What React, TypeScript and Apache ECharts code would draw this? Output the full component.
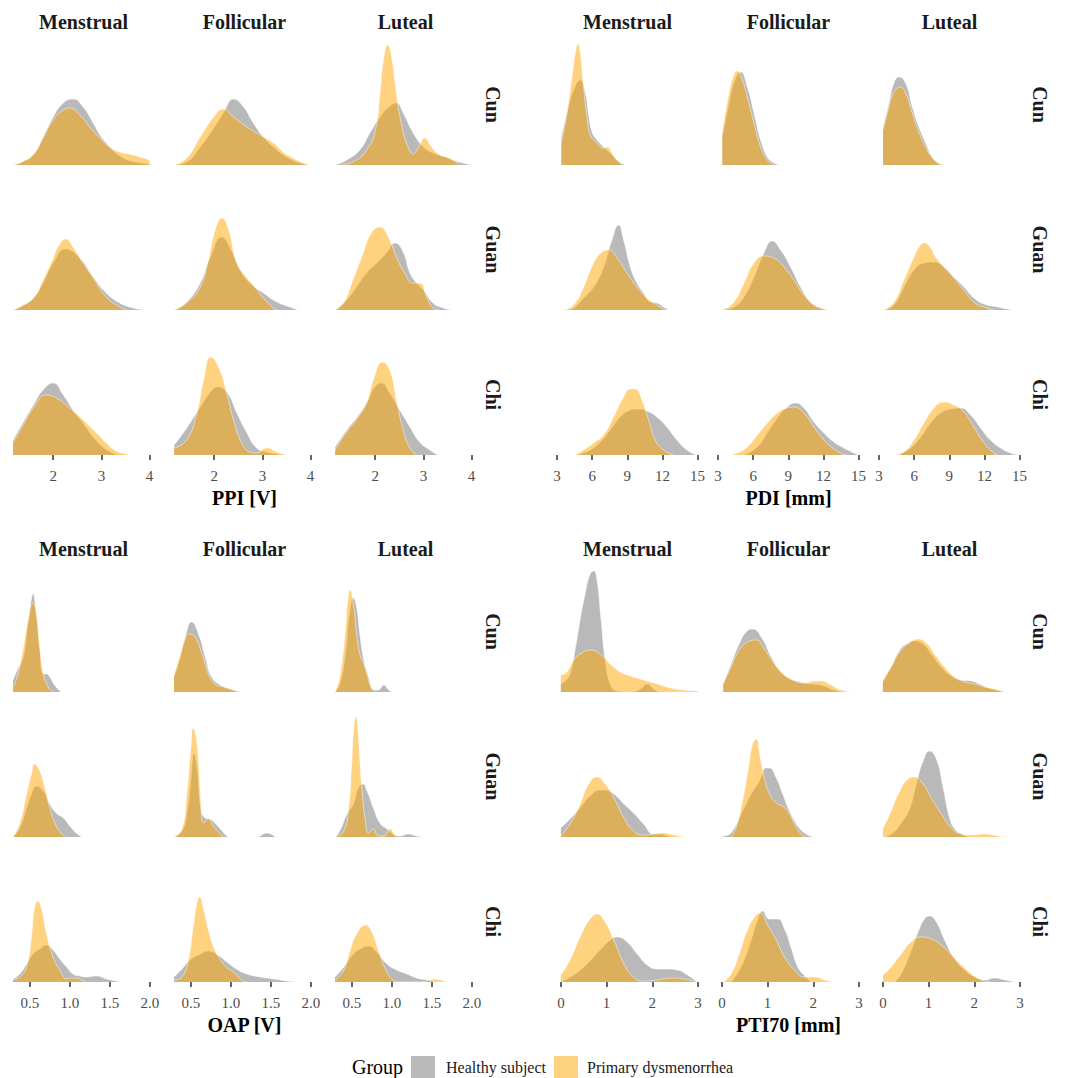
import React, { useEffect, useRef } from "react";
import * as echarts from "echarts";

type Pt = [number, number];

const phases = ["Menstrual", "Follicular", "Luteal"];
const sites = ["Cun", "Guan", "Chi"];
const groups = ["Healthy subject", "Primary dysmenorrhea"];

// Relative density (shared scale within each measure), per site: [Menstrual, Follicular, Luteal]
// ---------- PPI [V] ----------
const ppiCunHS: Pt[][] = [
  [[1.17,0],[1.35,3],[1.59,10],[1.79,28],[2.0,48],[2.21,62],[2.41,66],[2.62,58],[2.83,42],[2.97,30],[3.1,22],[3.3,12],[3.5,6],[3.7,3],[4.0,1]],
  [[1.17,0],[1.43,3],[1.71,18],[1.99,37],[2.19,52],[2.4,66],[2.61,58],[2.81,42],[3.02,28],[3.23,18],[3.5,8],[3.78,2],[4.0,0]],
  [[1.17,0],[1.41,5],[1.68,15],[1.89,32],[2.1,48],[2.3,59],[2.44,62],[2.58,52],[2.79,32],[3.0,18],[3.2,12],[3.4,9],[3.61,5],[3.82,2],[4.0,0]],
];
const ppiCunPD: Pt[][] = [
  [[1.17,0],[1.35,3],[1.59,11],[1.79,27],[2.0,45],[2.21,55],[2.34,57],[2.55,50],[2.76,38],[2.97,27],[3.17,18],[3.38,13],[3.66,10],[4.0,5]],
  [[1.17,0],[1.43,7],[1.71,28],[1.99,48],[2.19,56],[2.4,48],[2.68,38],[2.95,30],[3.23,22],[3.43,13],[3.64,7],[3.85,2],[4.0,0]],
  [[1.3,0],[1.61,5],[1.82,15],[1.99,32],[2.1,72],[2.17,105],[2.26,120],[2.34,108],[2.44,72],[2.54,42],[2.68,18],[2.79,11],[2.89,17],[3.03,27],[3.17,18],[3.34,10],[3.54,7],[3.75,0]],
];
const ppiGuanHS: Pt[][] = [
  [[1.17,0],[1.35,4],[1.59,12],[1.79,27],[2.0,47],[2.25,61],[2.55,52],[2.83,33],[3.1,17],[3.38,7],[3.66,2],[3.9,0]],
  [[1.17,0],[1.43,8],[1.71,27],[1.92,53],[2.16,73],[2.33,62],[2.54,40],[2.74,27],[3.02,17],[3.3,8],[3.57,3],[3.74,0]],
  [[1.17,0],[1.41,10],[1.61,23],[1.82,37],[2.03,47],[2.23,57],[2.41,67],[2.58,58],[2.72,37],[2.86,27],[3.0,20],[3.2,7],[3.41,2],[3.58,0]],
];
const ppiGuanPD: Pt[][] = [
  [[1.17,0],[1.35,4],[1.59,12],[1.79,30],[2.0,52],[2.12,65],[2.26,71],[2.41,63],[2.62,47],[2.83,32],[3.1,13],[3.38,3],[3.52,0]],
  [[1.17,0],[1.43,7],[1.71,23],[1.88,50],[2.02,80],[2.16,92],[2.3,80],[2.47,47],[2.68,32],[2.81,25],[3.02,12],[3.2,3],[3.3,0]],
  [[1.17,0],[1.34,7],[1.54,30],[1.75,57],[1.92,77],[2.1,83],[2.27,73],[2.44,53],[2.61,37],[2.79,27],[2.93,27],[3.07,13],[3.2,2],[3.34,0]],
];
const ppiChiHS: Pt[][] = [
  [[1.17,15],[1.38,33],[1.59,50],[1.79,65],[2.0,72],[2.21,60],[2.41,45],[2.62,32],[2.83,18],[3.03,8],[3.24,2],[3.38,0]],
  [[1.17,10],[1.43,27],[1.71,48],[1.92,63],[2.06,68],[2.26,63],[2.47,42],[2.68,22],[2.88,7],[3.09,3],[3.3,1],[3.43,0]],
  [[1.17,8],[1.41,25],[1.61,37],[1.82,52],[1.99,68],[2.13,72],[2.3,62],[2.51,45],[2.72,28],[2.92,13],[3.13,5],[3.3,0]],
];
const ppiChiPD: Pt[][] = [
  [[1.17,13],[1.38,30],[1.59,47],[1.86,60],[2.07,57],[2.34,47],[2.62,35],[2.9,22],[3.1,12],[3.31,4],[3.52,1],[3.6,0]],
  [[1.17,7],[1.43,15],[1.64,42],[1.78,75],[1.93,98],[2.09,88],[2.26,62],[2.4,35],[2.57,12],[2.74,3],[2.88,2],[3.09,7],[3.3,3],[3.5,0]],
  [[1.17,5],[1.41,23],[1.61,35],[1.82,52],[1.96,75],[2.15,93],[2.3,85],[2.44,55],[2.58,25],[2.72,7],[2.86,0]],
];

// ---------- PDI [mm] ----------
const pdiCunHS: Pt[][] = [
  [[3.37,28],[3.85,52],[4.42,75],[4.99,85],[5.42,72],[5.7,50],[5.99,33],[6.41,25],[6.98,18],[7.55,12],[8.12,5],[8.83,0]],
  [[3.37,28],[3.94,62],[4.51,87],[4.93,93],[5.5,78],[6.07,52],[6.64,25],[7.21,8],[7.78,2],[8.35,0]],
  [[3.34,37],[3.85,62],[4.28,82],[4.71,88],[5.27,82],[5.84,58],[6.41,38],[6.98,22],[7.55,8],[8.12,2],[8.55,0]],
];
const pdiCunPD: Pt[][] = [
  [[3.37,22],[3.85,52],[4.28,88],[4.56,112],[4.79,121],[4.99,112],[5.27,78],[5.56,48],[5.84,30],[6.41,22],[6.98,17],[7.32,18],[7.69,12],[8.12,5],[8.54,0]],
  [[3.37,32],[3.94,72],[4.42,92],[4.65,94],[5.08,85],[5.5,68],[6.07,42],[6.64,18],[7.21,5],[7.78,0]],
  [[3.34,35],[3.85,58],[4.28,73],[4.79,78],[5.27,72],[5.84,52],[6.41,33],[6.98,18],[7.55,7],[8.12,1],[8.4,0]],
];
const pdiGuanHS: Pt[][] = [
  [[3.9,0],[4.42,2],[5.27,12],[6.13,23],[6.98,43],[7.69,70],[8.26,85],[8.69,70],[9.26,43],[9.82,27],[10.39,17],[10.96,8],[11.53,7],[12.1,3],[12.52,0]],
  [[3.37,0],[4.36,3],[5.22,13],[6.07,33],[6.92,57],[7.63,69],[8.35,60],[9.2,43],[10.05,23],[10.9,8],[11.76,2],[12.47,0]],
  [[3.43,0],[4.28,5],[5.13,23],[5.99,40],[6.84,47],[7.69,48],[8.54,43],[9.4,33],[10.25,23],[11.1,12],[11.96,6],[13.09,3],[14.43,0]],
];
const pdiGuanPD: Pt[][] = [
  [[3.57,0],[4.42,5],[5.27,23],[6.13,47],[6.84,58],[7.41,60],[8.12,52],[8.97,37],[9.82,23],[10.67,12],[11.39,6],[11.96,2],[12.4,0]],
  [[3.37,0],[4.36,8],[5.22,27],[6.07,47],[6.92,54],[7.78,52],[8.63,43],[9.48,30],[10.33,15],[11.19,5],[12.04,1],[12.47,0]],
  [[3.43,0],[4.28,8],[5.13,30],[5.99,53],[6.55,65],[6.9,67],[7.41,62],[7.83,53],[8.54,43],[9.4,32],[10.25,20],[11.1,8],[11.96,3],[12.81,0]],
];
const pdiChiHS: Pt[][] = [
  [[4.71,0],[5.84,5],[6.7,13],[7.55,25],[8.4,38],[9.26,45],[9.82,46],[10.68,44],[11.53,38],[12.38,28],[13.24,15],[14.09,5],[14.94,0]],
  [[5.22,0],[6.36,8],[7.21,22],[8.06,37],[8.91,48],[9.62,52],[10.33,47],[11.19,33],[12.04,22],[12.89,13],[13.75,7],[14.6,2],[15.0,0]],
  [[4.56,0],[5.7,7],[6.55,18],[7.41,32],[8.26,42],[9.11,46],[9.97,47],[10.82,40],[11.67,27],[12.52,15],[13.38,7],[14.23,2],[15.0,0]],
];
const pdiChiPD: Pt[][] = [
  [[4.56,0],[5.27,5],[6.13,12],[6.98,20],[7.83,38],[8.69,58],[9.26,66],[9.68,66],[10.25,55],[10.82,35],[11.39,15],[12.1,5],[12.95,0]],
  [[3.94,0],[4.65,2],[5.5,8],[6.36,20],[7.21,32],[8.06,42],[8.91,47],[9.48,48],[10.33,42],[11.19,28],[12.04,15],[12.89,6],[13.46,2],[14.03,0]],
  [[4.28,0],[5.13,3],[5.99,15],[6.84,32],[7.69,47],[8.54,53],[9.4,50],[10.25,43],[11.1,28],[11.96,12],[12.81,2],[13.1,0]],
];

// ---------- OAP [V] ----------
const oapCunHS: Pt[][] = [
  [[0.29,12],[0.35,23],[0.42,35],[0.46,58],[0.51,88],[0.54,98],[0.58,78],[0.625,42],[0.67,18],[0.71,18],[0.75,15],[0.81,7],[0.875,1],[0.9,0]],
  [[0.29,15],[0.37,35],[0.43,55],[0.51,70],[0.6,57],[0.68,35],[0.76,15],[0.87,7],[0.99,3],[1.11,0]],
  [[0.29,0],[0.35,8],[0.42,38],[0.47,78],[0.52,94],[0.56,85],[0.6,58],[0.65,32],[0.71,15],[0.77,2],[0.83,2],[0.9,7],[0.96,2],[1.0,0]],
];
const oapCunPD: Pt[][] = [
  [[0.29,5],[0.35,17],[0.42,45],[0.48,72],[0.54,89],[0.58,80],[0.625,45],[0.67,18],[0.73,5],[0.79,0]],
  [[0.29,17],[0.37,38],[0.43,53],[0.47,58],[0.55,55],[0.64,38],[0.72,18],[0.8,8],[0.91,5],[1.03,2],[1.11,0]],
  [[0.29,0],[0.35,15],[0.42,62],[0.45,92],[0.48,102],[0.52,88],[0.56,58],[0.6,38],[0.65,28],[0.69,18],[0.73,7],[0.79,0]],
];
const oapGuanHS: Pt[][] = [
  [[0.29,0],[0.375,9],[0.46,29],[0.52,43],[0.58,51],[0.67,46],[0.75,33],[0.83,24],[0.92,19],[1.0,11],[1.08,4],[1.15,0]],
  [[0.29,0],[0.39,6],[0.45,23],[0.5,56],[0.54,84],[0.58,69],[0.625,29],[0.68,19],[0.74,18],[0.8,14],[0.87,8],[0.95,1],[0.99,0],[1.32,0],[1.45,4],[1.56,0]],
  [[0.29,0],[0.35,6],[0.44,23],[0.52,33],[0.58,49],[0.64,53],[0.69,46],[0.77,29],[0.85,14],[0.94,8],[1.02,3],[1.1,1],[1.21,3],[1.31,1],[1.4,0]],
];
const oapGuanPD: Pt[][] = [
  [[0.29,0],[0.375,14],[0.46,43],[0.52,63],[0.56,73],[0.625,66],[0.69,49],[0.75,29],[0.83,11],[0.9,3],[0.94,0]],
  [[0.29,0],[0.39,8],[0.45,43],[0.5,89],[0.53,109],[0.575,96],[0.62,43],[0.66,14],[0.72,18],[0.78,11],[0.87,3],[0.91,0]],
  [[0.29,0],[0.4,6],[0.46,29],[0.5,76],[0.53,113],[0.555,120],[0.58,103],[0.625,49],[0.67,16],[0.71,4],[0.77,8],[0.83,1],[0.9,1],[0.98,8],[1.04,1],[1.06,0]],
];
const oapChiHS: Pt[][] = [
  [[0.29,3],[0.375,8],[0.46,18],[0.54,28],[0.625,33],[0.71,37],[0.79,32],[0.875,23],[0.96,15],[1.04,8],[1.125,6],[1.21,5],[1.33,6],[1.46,3],[1.58,1],[1.62,0]],
  [[0.29,5],[0.39,13],[0.49,22],[0.62,28],[0.72,31],[0.82,28],[0.95,20],[1.07,13],[1.2,8],[1.37,5],[1.54,3],[1.7,1],[1.83,0]],
  [[0.29,5],[0.4,15],[0.52,28],[0.625,34],[0.71,36],[0.81,30],[0.94,18],[1.06,12],[1.19,8],[1.31,4],[1.44,2],[1.52,0]],
];
const oapChiPD: Pt[][] = [
  [[0.29,2],[0.375,5],[0.46,15],[0.52,45],[0.56,75],[0.6,81],[0.65,72],[0.71,48],[0.79,25],[0.875,12],[0.96,3],[1.02,4],[1.08,4],[1.15,2],[1.21,0]],
  [[0.29,2],[0.39,5],[0.47,22],[0.53,55],[0.575,78],[0.61,85],[0.66,73],[0.72,52],[0.8,32],[0.89,20],[0.97,13],[1.03,10],[1.12,3],[1.2,0]],
  [[0.29,2],[0.4,12],[0.48,32],[0.56,48],[0.67,57],[0.75,50],[0.83,32],[0.92,13],[1.0,3],[1.08,0],[1.33,0],[1.48,2],[1.54,3],[1.67,0]],
];

// ---------- PTI70 [mm] ----------
const ptiCunHS: Pt[][] = [
  [[0,8],[0.09,11],[0.2,18],[0.31,42],[0.42,72],[0.53,98],[0.64,118],[0.72,121],[0.79,112],[0.88,72],[0.97,32],[1.08,8],[1.23,1],[1.52,0],[1.74,3],[1.89,8],[2.03,3],[2.14,0]],
  [[0.03,8],[0.2,28],[0.38,48],[0.53,60],[0.67,63],[0.86,55],[1.08,35],[1.29,20],[1.51,13],[1.73,10],[1.95,8],[2.17,7],[2.39,3],[2.6,0]],
  [[0,10],[0.18,25],[0.37,42],[0.55,49],[0.69,51],[0.88,48],[1.06,38],[1.28,25],[1.5,16],[1.72,12],[1.94,11],[2.16,7],[2.38,3],[2.67,0]],
];
const ptiCunPD: Pt[][] = [
  [[0,17],[0.13,20],[0.28,32],[0.42,38],[0.64,42],[0.86,38],[1.08,28],[1.3,20],[1.52,16],[1.81,12],[2.11,8],[2.4,4],[2.69,2],[3.0,1]],
  [[0.03,8],[0.2,25],[0.38,42],[0.56,50],[0.75,52],[0.93,43],[1.15,28],[1.37,17],[1.59,11],[1.81,9],[2.03,11],[2.17,11],[2.39,7],[2.61,2],[2.87,0]],
  [[0,12],[0.18,25],[0.37,40],[0.55,48],[0.77,53],[0.95,49],[1.13,38],[1.35,25],[1.57,15],[1.79,10],[2.01,8],[2.23,5],[2.45,3],[2.67,0]],
];
const ptiGuanHS: Pt[][] = [
  [[0,9],[0.2,18],[0.42,29],[0.64,41],[0.86,47],[0.97,47],[1.16,43],[1.38,33],[1.59,24],[1.81,13],[2.03,3],[2.18,3],[2.33,1],[2.48,0]],
  [[0.03,1],[0.2,4],[0.42,23],[0.64,43],[0.82,56],[0.97,69],[1.04,69],[1.19,59],[1.33,43],[1.48,26],[1.66,11],[1.84,3],[2.02,0]],
  [[0,0],[0.18,3],[0.4,14],[0.59,29],[0.73,53],[0.88,76],[1.02,86],[1.17,78],[1.32,49],[1.46,19],[1.57,8],[1.72,3],[1.87,0]],
];
const ptiGuanPD: Pt[][] = [
  [[0,1],[0.2,13],[0.42,33],[0.61,53],[0.79,60],[0.97,53],[1.16,39],[1.38,19],[1.59,6],[1.81,2],[2.03,3],[2.25,4],[2.47,2],[2.73,0]],
  [[0.2,0],[0.31,9],[0.42,29],[0.56,63],[0.67,93],[0.75,98],[0.84,79],[0.93,59],[1.04,43],[1.19,34],[1.33,31],[1.44,26],[1.59,13],[1.73,3],[1.84,0]],
  [[0,8],[0.18,26],[0.37,46],[0.55,58],[0.69,60],[0.88,53],[1.06,39],[1.28,23],[1.5,9],[1.72,3],[1.94,2],[2.23,3],[2.52,1],[2.74,0]],
];
const ptiChiHS: Pt[][] = [
  [[0,0],[0.28,7],[0.57,18],[0.86,32],[1.08,42],[1.23,45],[1.45,40],[1.67,28],[1.89,17],[2.11,13],[2.33,13],[2.55,12],[2.77,7],[2.98,0]],
  [[0.2,0],[0.42,15],[0.64,42],[0.78,62],[0.89,71],[1.04,63],[1.22,63],[1.37,53],[1.51,35],[1.66,15],[1.81,6],[1.95,0]],
  [[0.26,0],[0.4,8],[0.59,28],[0.77,50],[0.91,63],[1.02,66],[1.17,60],[1.35,42],[1.57,23],[1.79,12],[2.01,5],[2.23,2],[2.45,4],[2.67,2],[2.89,0]],
];
const ptiChiPD: Pt[][] = [
  [[0,7],[0.2,22],[0.42,45],[0.64,63],[0.79,68],[0.94,62],[1.16,42],[1.38,18],[1.59,5],[1.81,1],[2.11,2],[2.4,4],[2.69,3],[2.98,0]],
  [[0.03,0],[0.2,8],[0.38,28],[0.56,52],[0.75,67],[0.84,69],[1.0,57],[1.19,42],[1.37,25],[1.59,12],[1.81,5],[2.03,5],[2.25,2],[2.43,0]],
  [[0,7],[0.18,15],[0.4,28],[0.62,40],[0.84,45],[1.06,43],[1.28,37],[1.5,27],[1.72,17],[1.94,8],[2.16,2],[2.34,0]],
];

const ppiTicks = [2, 3, 4];
const pdiTicks = [3, 6, 9, 12, 15];
const oapTicks = [0.5, 1.0, 1.5, 2.0];
const ptiTicks = [0, 1, 2, 3];

const measures = [
  { title: "PPI [V]", min: 1.166, max: 4.091, ticks: ppiTicks, digits: 0, hs: [ppiCunHS, ppiGuanHS, ppiChiHS], pd: [ppiCunPD, ppiGuanPD, ppiChiPD] },
  { title: "PDI [mm]", min: 3, max: 15.04, ticks: pdiTicks, digits: 0, hs: [pdiCunHS, pdiGuanHS, pdiChiHS], pd: [pdiCunPD, pdiGuanPD, pdiChiPD] },
  { title: "OAP [V]", min: 0.29, max: 2.0525, ticks: oapTicks, digits: 1, hs: [oapCunHS, oapGuanHS, oapChiHS], pd: [oapCunPD, oapGuanPD, oapChiPD] },
  { title: "PTI70 [mm]", min: -0.085, max: 3.0, ticks: ptiTicks, digits: 0, hs: [ptiCunHS, ptiGuanHS, ptiChiHS], pd: [ptiCunPD, ptiGuanPD, ptiChiPD] },
];

// layout
const ORIGINS = [[13, 38], [557, 38], [13, 565], [557, 565]];
const ROW_LABEL_X = [493, 1040, 493, 1040];
const FACET_W = 141, FACET_STEP = 161, ROW_H = 133, ROW_STEP = 145, EXPAND = 6;
const SERIF = "Liberation Serif";
const FILLS = ["#737373", "#FFA500"];
const KEY_FILLS = ["#B9B9B9", "#FFD27F"];
const LEGEND_KEY_X = [411, 554];
const LEGEND_TEXT_X = [446, 587];

function txt(text: string, x: number, y: number, size: number, opts: any = {}) {
  return {
    type: "text",
    x,
    y,
    rotation: opts.rotation || 0,
    silent: true,
    style: {
      text,
      fill: opts.color || "#1a1a1a",
      fontSize: size,
      fontWeight: opts.bold ? "bold" : "normal",
      fontFamily: SERIF,
      align: opts.align || "center",
      textAlign: opts.align || "center",
      verticalAlign: "middle",
      textVerticalAlign: "middle",
    },
  };
}

function buildOption() {
  const grid: any[] = [], xAxis: any[] = [], yAxis: any[] = [], series: any[] = [], graphic: any[] = [];
  measures.forEach((m, pi) => {
    const [ox, oy] = ORIGINS[pi];
    for (let r = 0; r < 3; r++) {
      for (let c = 0; c < 3; c++) {
        const idx = grid.length;
        const left = ox + c * FACET_STEP;
        const top = oy + r * ROW_STEP;
        grid.push({ left, top: top + EXPAND, width: FACET_W, height: ROW_H - 2 * EXPAND, containLabel: false });
        const bottomRow = r === 2;
        xAxis.push({
          type: "value",
          gridIndex: idx,
          min: m.min,
          max: m.max,
          show: bottomRow,
          offset: EXPAND,
          axisLine: { show: false },
          splitLine: { show: false },
          axisTick: { show: true, customValues: m.ticks, length: 5, lineStyle: { color: "#333333", width: 1.5 } },
          axisLabel: {
            show: true,
            customValues: m.ticks,
            formatter: (v: number) => Number(v).toFixed(m.digits),
            margin: 7,
            fontSize: 15,
            color: "#4D4D4D",
            fontFamily: SERIF,
          },
        });
        yAxis.push({ type: "value", gridIndex: idx, min: 0, max: ROW_H - 2 * EXPAND, show: false });
        [m.hs, m.pd].forEach((g, gi) => {
          series.push({
            type: "line",
            name: groups[gi],
            xAxisIndex: idx,
            yAxisIndex: idx,
            data: g[r][c],
            smooth: 0.5,
            symbol: "none",
            showSymbol: false,
            silent: true,
            z: 2 + gi,
            lineStyle: { color: "#ffffff", width: 0.6, opacity: 0.85 },
            itemStyle: { color: KEY_FILLS[gi] },
            areaStyle: { color: FILLS[gi], opacity: 0.5 },
          });
        });
        if (r === 0) graphic.push(txt(phases[c], left + FACET_W / 2, oy - 16.5, 20, { bold: true }));
        if (c === 2) graphic.push(txt(sites[r], ROW_LABEL_X[pi], top + ROW_H / 2, 20, { bold: true, rotation: -Math.PI / 2 }));
      }
    }
    graphic.push(txt(m.title, ox + FACET_STEP + FACET_W / 2, oy + 460, 20, { bold: true, color: "#000" }));
  });

  // legend
  graphic.push(txt("Group", 352, 1067, 20, { align: "left", color: "#000" }));
  groups.forEach((g, gi) => {
    graphic.push({
      type: "rect",
      silent: true,
      shape: { x: LEGEND_KEY_X[gi], y: 1056, width: 24, height: 22 },
      style: { fill: KEY_FILLS[gi] },
    });
    graphic.push(txt(g, LEGEND_TEXT_X[gi], 1067, 16, { align: "left" }));
  });

  return {
    animation: false,
    backgroundColor: "#ffffff",
    textStyle: { fontFamily: SERIF },
    grid,
    xAxis,
    yAxis,
    series,
    graphic,
  };
}

export default function App() {
  const ref = useRef<HTMLDivElement>(null);
  useEffect(() => {
    document.body.style.margin = "0";
    if (!ref.current) return;
    const chart = echarts.init(ref.current, undefined, { renderer: "svg" });
    chart.setOption(buildOption() as any);
    return () => chart.dispose();
  }, []);
  return <div ref={ref} style={{ width: 1071, height: 1078 }} />;
}
